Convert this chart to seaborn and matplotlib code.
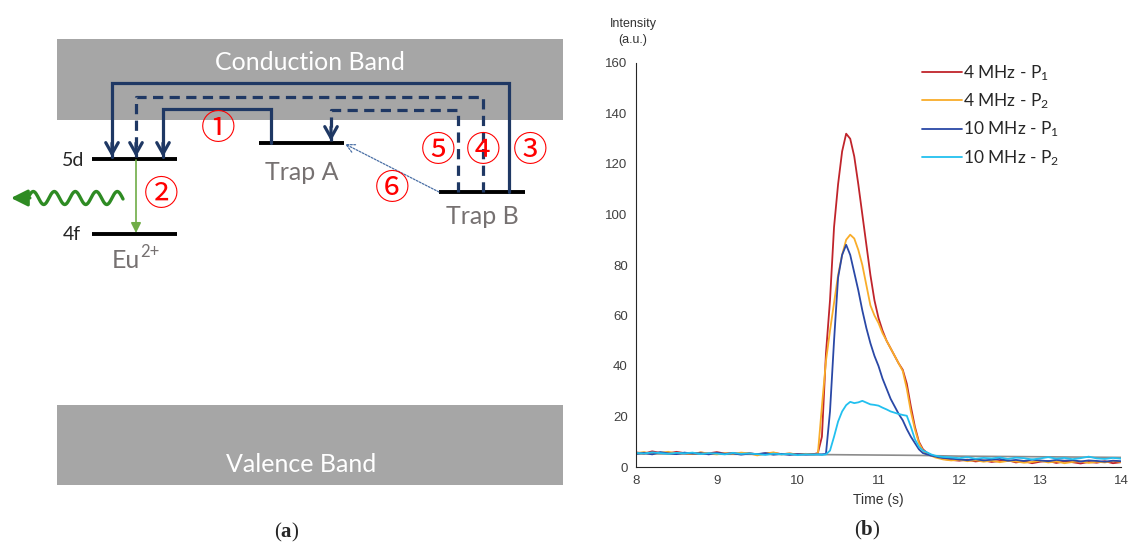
import numpy as np
import pandas as pd
import matplotlib
matplotlib.use("Agg")
import matplotlib.pyplot as plt
import seaborn as sns
from matplotlib.patches import Rectangle
from matplotlib.lines import Line2D

# ---------------- data for panel (b) ----------------
t_flat1 = [8.0, 8.1, 8.2, 8.3, 8.4, 8.5, 8.6, 8.7, 8.8, 8.9, 9.0, 9.1, 9.2, 9.3, 9.4,
           9.5, 9.6, 9.7, 9.8, 9.9, 10.0, 10.1, 10.2]
t_peak = [10.25, 10.30, 10.35, 10.40, 10.45, 10.50, 10.55, 10.60, 10.65, 10.70, 10.75,
          10.80, 10.85, 10.90, 10.95, 11.00, 11.05, 11.10, 11.15, 11.20, 11.25, 11.30,
          11.35, 11.40, 11.45, 11.50, 11.55, 11.60, 11.65, 11.70, 11.75, 11.80]
t_flat2 = [11.9, 12.0, 12.1, 12.2, 12.3, 12.4, 12.5, 12.6, 12.7, 12.8, 12.9, 13.0, 13.1,
           13.2, 13.3, 13.4, 13.5, 13.6, 13.7, 13.8, 13.9, 14.0]
time_s = t_flat1 + t_peak + t_flat2

mhz4_p1 = ([5.8, 5.3, 6.2, 5.6, 5.4, 6.0, 5.5, 5.2, 5.7, 5.4, 5.9, 5.3, 5.6, 5.2, 5.5, 5.0,
            5.4, 5.6, 5.1, 5.3, 5.0, 5.2, 5.1]
           + [5.5, 12, 45, 66, 95, 112, 125, 132, 130, 123, 112, 100, 88, 76, 66, 59, 54,
              50, 47, 44, 41, 38.5, 33, 24, 16, 10, 7, 5.6, 4.8, 4.2, 3.8, 3.2]
           + [2.8, 2.5, 2.9, 2.2, 2.6, 2.0, 2.4, 2.7, 1.8, 2.3, 1.5, 2.1, 2.4, 1.6, 2.2,
              1.9, 1.4, 2.0, 1.7, 2.3, 1.5, 1.9])
mhz4_p2 = ([5.5, 5.9, 5.2, 5.7, 6.0, 5.4, 5.6, 5.1, 5.8, 5.3, 5.0, 5.5, 5.2, 5.7, 5.4, 4.6,
            5.3, 5.8, 5.0, 5.4, 4.9, 5.2, 5.0]
           + [5.2, 24, 42, 54, 65, 76, 84, 90, 92, 90.5, 86, 80, 72, 64, 60, 57, 53, 50,
              47, 44, 41, 38, 31, 22, 15, 9.5, 6.5, 5.2, 4.5, 3.8, 3.4, 3.0]
           + [2.6, 2.9, 2.3, 2.7, 2.1, 2.5, 1.9, 2.4, 2.2, 1.7, 2.0, 2.5, 1.8, 2.2, 1.5,
              2.0, 2.3, 1.6, 2.1, 1.8, 2.4, 2.0])
mhz10_p1 = ([5.2, 5.6, 5.0, 5.9, 5.4, 5.1, 5.7, 5.3, 5.5, 5.0, 5.6, 5.2, 5.4, 4.9, 5.3, 5.1,
             5.5, 4.9, 5.2, 4.8, 5.1, 4.9, 5.0]
            + [5.0, 5.0, 5.2, 22, 50, 75, 84, 88, 84, 77, 70, 62, 55, 49, 44, 40, 35, 31,
               27, 24, 21, 18.5, 15, 12, 9.5, 7, 5.5, 5.0, 4.5, 4.2, 3.8, 3.6]
            + [3.3, 3.0, 2.7, 3.1, 2.6, 2.9, 3.2, 2.5, 2.8, 2.4, 2.9, 2.6, 2.3, 2.8, 2.5,
               2.7, 2.2, 2.6, 2.4, 2.1, 2.5, 2.3])
mhz10_p2 = ([5.6, 5.3, 5.8, 5.5, 5.2, 5.6, 5.4, 5.7, 5.1, 5.5, 5.3, 5.0, 5.6, 5.2, 5.4, 5.1,
             4.8, 5.3, 5.0, 5.2, 4.7, 5.0, 4.9]
            + [5.0, 4.8, 5.0, 6.5, 12, 18, 22, 24.5, 25.8, 25.3, 25.6, 26.2, 25.5, 24.8,
               24.6, 24.3, 23.5, 22.8, 22.0, 21.5, 21.0, 20.6, 20.3, 16, 11, 8, 6.5, 5.8,
               5.0, 4.5, 4.2, 4.0]
            + [3.8, 3.5, 3.9, 3.3, 3.6, 3.4, 3.8, 3.2, 3.7, 3.5, 3.0, 3.4, 3.9, 3.3, 3.6,
               3.1, 3.5, 4.1, 3.4, 3.2, 3.6, 3.3])
base_time = [8.0, 10.35, 11.5, 12.0, 14.0]
base_vals = [5.2, 4.9, 4.6, 4.3, 3.8]

series_names = ["4 MHz - P$_1$", "4 MHz - P$_2$", "10 MHz - P$_1$", "10 MHz - P$_2$"]
series_vals = [mhz4_p1, mhz4_p2, mhz10_p1, mhz10_p2]
series_colors = ["#c0242b", "#f9ad2a", "#2a48a6", "#22c0ef"]
x_ticks = [8, 9, 10, 11, 12, 13, 14]
y_ticks = [0, 20, 40, 60, 80, 100, 120, 140, 160]

# ---------------- style ----------------
sns.set_style("white")
plt.rcParams["font.family"] = ["Liberation Sans", "DejaVu Sans"]
plt.rcParams["mathtext.fontset"] = "custom"
plt.rcParams["mathtext.rm"] = "Liberation Serif"
plt.rcParams["mathtext.bf"] = "Liberation Serif:bold"
plt.rcParams["mathtext.default"] = "regular"

fig = plt.figure(figsize=(11.29, 5.47), dpi=100)

# overlay axes in pixel coordinates for the schematic (panel a) and captions
ov = fig.add_axes([0, 0, 1, 1])
ov.set_xlim(0, 1129)
ov.set_ylim(547, 0)
ov.axis("off")

band_gray = "#a6a6a6"
navy = "#1f3864"
ov.add_patch(Rectangle((57, 39), 506, 81, fc=band_gray, ec="none", zorder=0))
ov.add_patch(Rectangle((57, 405), 506, 80, fc=band_gray, ec="none", zorder=0))
ov.text(310, 62, "Conduction Band", color="white", fontsize=18, family="Lato",
        ha="center", va="center")
ov.text(301, 465, "Valence Band", color="white", fontsize=18, family="Lato",
        ha="center", va="center")

# energy levels
levels = {"5d": (92, 177, 159), "4f": (92, 177, 234), "A": (259, 344, 143), "B": (439, 525, 192)}
for x0, x1, y in levels.values():
    ov.plot([x0, x1], [y, y], color="black", lw=2.8, solid_capstyle="butt", zorder=3)
ov.text(73, 161, "5d", fontsize=14, family="Lato", ha="center", va="center")
ov.text(72, 234, "4f", fontsize=14, family="Lato", ha="center", va="center")
ov.text(140, 261, "Eu", fontsize=18, family="Lato", color="#767171",
        ha="right", va="center")
ov.text(140, 252, "2+", fontsize=12, family="Lato", color="#767171",
        ha="left", va="center")
ov.text(302, 172, "Trap A", fontsize=18, family="Lato", color="#767171",
        ha="center", va="center")
ov.text(482, 217, "Trap B", fontsize=18, family="Lato", color="#767171",
        ha="center", va="center")


def path_arrow(pts, dashed=False):
    xs = [p[0] for p in pts]
    ys = [p[1] for p in pts]
    ls = (0, (3.2, 2.0)) if dashed else "-"
    ov.plot(xs, ys, color=navy, lw=2.3, ls=ls, solid_joinstyle="miter", zorder=4)
    ov.annotate("", xy=pts[-1], xytext=(pts[-1][0], pts[-1][1] - 14),
                arrowprops=dict(arrowstyle="->,head_length=0.8,head_width=0.45",
                                color=navy, lw=2.3, shrinkA=0, shrinkB=0), zorder=5)


path_arrow([(509, 192), (509, 83), (112, 83), (112, 157)])
path_arrow([(483, 192), (483, 97), (136, 97), (136, 157)], dashed=True)
path_arrow([(271, 143), (271, 109), (163, 109), (163, 157)])
path_arrow([(458, 192), (458, 110), (331, 110), (331, 141)], dashed=True)
# thermal transfer trap B -> trap A
ov.annotate("", xy=(345, 144), xytext=(439, 192),
            arrowprops=dict(arrowstyle="->,head_length=0.6,head_width=0.3",
                            color="#4a6fa5", lw=0.9, ls=(0, (1.5, 1.2)),
                            shrinkA=0, shrinkB=0))
# green emission
ov.annotate("", xy=(136, 233), xytext=(136, 160),
            arrowprops=dict(arrowstyle="-|>,head_length=0.6,head_width=0.3",
                            color="#70ad47", lw=1.2, shrinkA=0, shrinkB=0))
wx = np.linspace(28, 123, 200)
ov.plot(wx, 198 - 6.5 * np.sin((wx - 28) / 21.0 * 2 * np.pi), color="#2e8b23", lw=2.4)
ov.annotate("", xy=(11, 198), xytext=(30, 198),
            arrowprops=dict(arrowstyle="-|>,head_length=1.0,head_width=0.5",
                            color="#2e8b23", lw=2.2, shrinkA=0, shrinkB=0))

# circled step numbers
for s, (x, y) in {"\u2460": (218, 130), "\u2461": (161, 196), "\u2462": (530, 152),
                  "\u2463": (483, 152), "\u2464": (438, 152), "\u2465": (392, 190)}.items():
    ov.text(x, y, s, color="red", fontsize=25, family="Noto Sans CJK JP",
            ha="center", va="center", zorder=6)

ov.text(287, 532, r"($\mathbf{a}$)", fontsize=15, family="Liberation Serif",
        ha="center", va="center")
ov.text(867, 530, r"($\mathbf{b}$)", fontsize=15, family="Liberation Serif",
        ha="center", va="center")
ov.text(633, 32, "Intensity\n(a.u.)", fontsize=9, color="#333333",
        ha="center", va="center", linespacing=1.5)

# ---------------- panel (b) ----------------
ax = fig.add_axes([636 / 1129, 1 - 467 / 547, (1121 - 636) / 1129, (467 - 63) / 547])
ax.patch.set_alpha(0)
ax.plot(base_time, base_vals, color="#8c8c8c", lw=1.2)

df = pd.DataFrame({
    "time": np.tile(time_s, len(series_names)),
    "intensity": np.concatenate(series_vals),
    "series": np.repeat(series_names, len(time_s)),
})
sns.lineplot(data=df, x="time", y="intensity", hue="series", hue_order=series_names,
             palette=dict(zip(series_names, series_colors)), estimator=None,
             sort=False, lw=1.3, legend=False, ax=ax)

ax.set_xlim(8, 14)
ax.set_ylim(0, 160)
ax.set_xticks(x_ticks)
ax.set_yticks(y_ticks)
ax.tick_params(direction="in", length=4, width=0.8, color="#262626",
               labelcolor="#404040", labelsize=9.5, pad=6)
sns.despine(ax=ax)
for sp in ("left", "bottom"):
    ax.spines[sp].set_color("#262626")
    ax.spines[sp].set_linewidth(0.8)
ax.set_xlabel("Time (s)", fontsize=10, color="#333333", labelpad=4)
ax.set_ylabel("")

handles = [Line2D([0], [0], color=c, lw=1.3) for c in series_colors]
leg = ax.legend(handles, series_names, loc="upper left",
                bbox_to_anchor=((915 - 636) / 485, 1 + (63 - 56) / 404),
                frameon=False, handlelength=2.3, handletextpad=0.05,
                labelspacing=0.5, borderaxespad=0,
                prop={"family": "Lato", "size": 12.5})

fig.savefig("out.png", dpi=100)
